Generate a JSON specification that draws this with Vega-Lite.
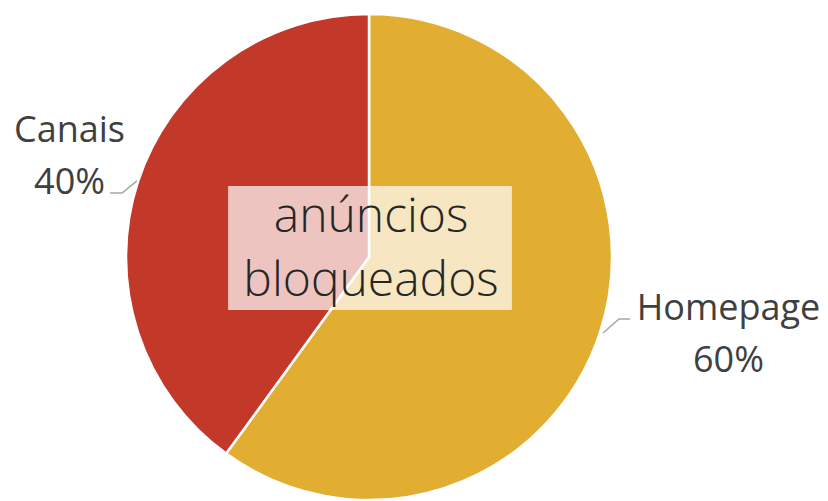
{
  "$schema": "https://vega.github.io/schema/vega-lite/v6.json",
  "width": 738,
  "height": 488,
  "autosize": {"type": "none"},
  "padding": {"left": 0, "top": 13, "right": 90, "bottom": 0},
  "background": "white",
  "config": {"view": {"stroke": null}},
  "datasets": {
    "fatias": [
      {"categoria": "Homepage", "valor": 60, "rotulo": "Homepage\n60%", "ordem": 1},
      {"categoria": "Canais", "valor": 40, "rotulo": "Canais\n40%", "ordem": 2}
    ],
    "titulo": [
      {"texto": "anúncios\nbloqueados"}
    ]
  },
  "layer": [
    {
      "data": {"name": "fatias"},
      "mark": {"type": "arc", "outerRadius": 243, "stroke": "white", "strokeWidth": 2.5},
      "encoding": {
        "theta": {"field": "valor", "type": "quantitative", "stack": true},
        "color": {
          "field": "categoria",
          "type": "nominal",
          "scale": {"domain": ["Homepage", "Canais"], "range": ["#E2AE32", "#C2392A"]},
          "legend": null
        },
        "order": {"field": "ordem", "type": "quantitative"}
      }
    },
    {
      "data": {"name": "fatias"},
      "mark": {
        "type": "text",
        "radius": 317,
        "font": "Open Sans",
        "fontSize": 36,
        "lineBreak": "\n",
        "lineHeight": 52,
        "align": "center",
        "baseline": "middle",
        "fill": "#404040",
        "dx": {"expr": "datum.categoria === 'Homepage' ? 58 : 2"},
        "dy": {"expr": "datum.categoria === 'Homepage' ? -46 : -28"}
      },
      "encoding": {
        "theta": {"field": "valor", "type": "quantitative", "stack": true},
        "order": {"field": "ordem", "type": "quantitative"},
        "text": {"field": "rotulo", "type": "nominal"}
      }
    },
    {
      "data": {"name": "titulo"},
      "mark": {
        "type": "point",
        "shape": "M-1.066,-0.263H-1.016L-0.955,-0.313M0.963,0.313L1.029,0.255H1.074",
        "size": 236196,
        "filled": false,
        "stroke": "#A6A6A6",
        "strokeWidth": 1.5,
        "opacity": 1
      },
      "encoding": {}
    },
    {
      "data": {"name": "titulo"},
      "mark": {
        "type": "point",
        "shape": "M-0.580,-0.292H0.588V0.218H-0.580Z",
        "size": 236196,
        "filled": true,
        "fill": "white",
        "fillOpacity": 0.7,
        "strokeWidth": 0,
        "opacity": 1
      },
      "encoding": {}
    },
    {
      "data": {"name": "titulo"},
      "mark": {
        "type": "text",
        "font": "Open Sans",
        "fontWeight": 300,
        "fontSize": 48,
        "lineBreak": "\n",
        "lineHeight": 64,
        "align": "center",
        "baseline": "middle",
        "fill": "#262626",
        "dx": 2,
        "dy": -39
      },
      "encoding": {
        "text": {"field": "texto", "type": "nominal"}
      }
    }
  ]
}
